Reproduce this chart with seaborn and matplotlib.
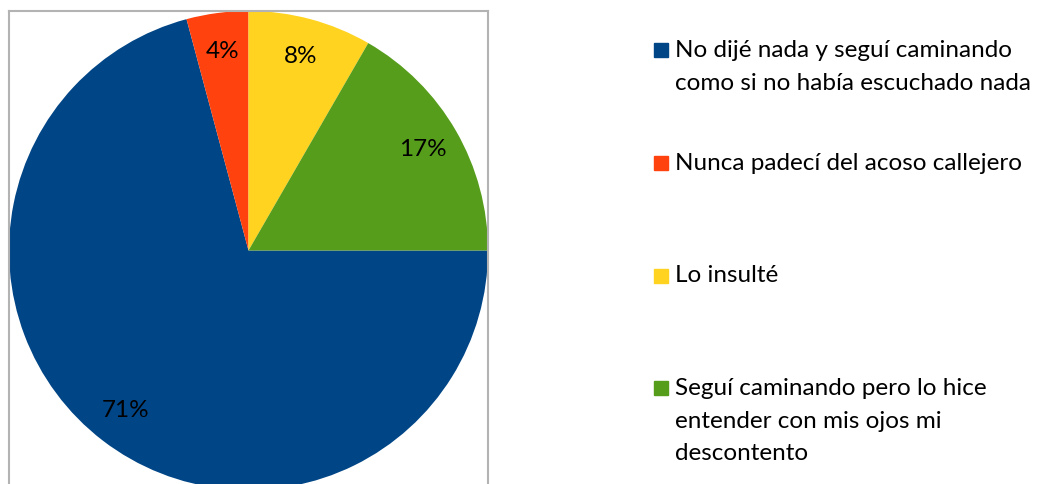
import seaborn as sns
import matplotlib.pyplot as plt
from matplotlib.patches import Rectangle

# Respuestas (conteos que dan 71%, 4%, 8%, 17%)
categorias = [
    "No dijé nada y seguí caminando\ncomo si no había escuchado nada",
    "Nunca padecí del acoso callejero",
    "Lo insulté",
    "Seguí caminando pero lo hice\nentender con mis ojos mi\ndescontento",
]
respuestas = [17, 1, 2, 4]
colores = ["#004586", "#ff420e", "#ffd320", "#579d1c"]

sns.set_theme(style="white")
plt.rcParams["font.family"] = ["Lato", "DejaVu Sans"]

W, H = 1046, 484
fig = plt.figure(figsize=(W / 100, H / 100), dpi=100)

# pie area: x 9..488 px, top at 11 px (goes past the bottom edge)
ax = fig.add_axes([9 / W, (H - 490) / H, 479 / W, 479 / H])
ax.pie(
    respuestas,
    colors=colores,
    startangle=0,
    counterclock=False,
    autopct="%1.0f%%",
    pctdistance=0.84,
    textprops={"fontsize": 17.5, "color": "black"},
    wedgeprops={"linewidth": 0},
)
ax.set_xlim(-1, 1)
ax.set_ylim(-1, 1)
ax.set_frame_on(True)
for s in ax.spines.values():
    s.set_color("#b3b3b3")
    s.set_linewidth(1.5)

# legend drawn by hand so the square sits on the first line
base_first = 57.3
paso = 112.6
interlinea = 32.5
for i, (cat, col) in enumerate(zip(categorias, colores)):
    y0 = base_first + i * paso
    fig.patches.append(
        Rectangle((653.5 / W, (H - y0) / H), 14 / W, 14 / H,
                  transform=fig.transFigure, color=col)
    )
    for j, linea in enumerate(cat.split("\n")):
        fig.text(675 / W, (H - y0 - j * interlinea) / H, linea,
                 fontsize=17.5, va="baseline", ha="left", color="black",
                 transform=fig.transFigure)

fig.savefig("out.png", dpi=100)
